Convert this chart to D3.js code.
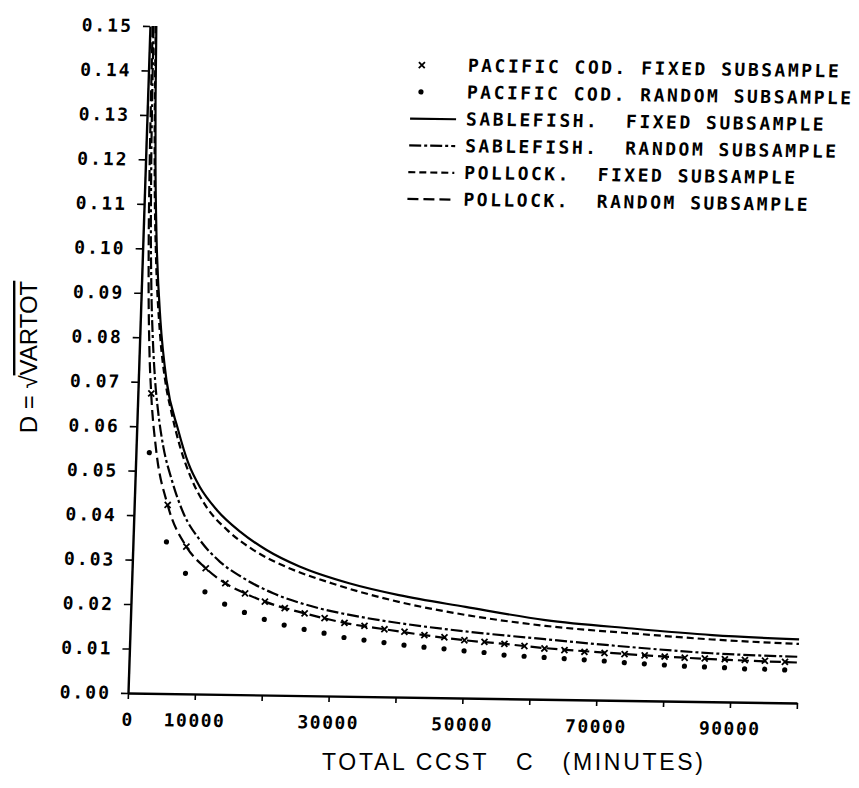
<!DOCTYPE html>
<html><head><meta charset="utf-8">
<script src="https://cdn.jsdelivr.net/npm/d3@7"></script>
<style>body{margin:0;background:#fff}</style>
</head><body>
<svg id="chart" width="859" height="788"></svg>
<script>
// ---------------- data ----------------
const xTickValues = [0,10000,20000,30000,40000,50000,60000,70000,80000,90000,100000];
const xTickLabels = ["0","10000","","30000","","50000","","70000","","90000",""];
const yTickValues = [0,0.01,0.02,0.03,0.04,0.05,0.06,0.07,0.08,0.09,0.10,0.11,0.12,0.13,0.14,0.15];

const legendLabels = [
  "PACIFIC COD. FIXED SUBSAMPLE",
  "PACIFIC COD. RANDOM SUBSAMPLE",
  "SABLEFISH.  FIXED SUBSAMPLE",
  "SABLEFISH.  RANDOM SUBSAMPLE",
  "POLLOCK.  FIXED SUBSAMPLE",
  "POLLOCK.  RANDOM SUBSAMPLE"
];

const sableFixedCost = [950,1200,1500,2000,3000,4200,6200,7900,9700,12400,16000,20000,25000,32500,40000,50000,62000,75000,87000,100000];
const sableFixedD    = [0.150,0.133,0.119,0.103,0.084,0.0705,0.0593,0.0518,0.0466,0.0414,0.0366,0.0326,0.0290,0.0254,0.0229,0.0205,0.0178,0.0162,0.0150,0.0143];

const pollockFixedCost = [860,1100,1500,2000,3000,4000,5150,6550,8500,10800,14000,18000,23000,30000,40000,50000,62000,75000,87000,100000];
const pollockFixedD    = [0.150,0.133,0.114,0.099,0.081,0.0705,0.0630,0.0556,0.0481,0.0421,0.0370,0.0326,0.0289,0.0253,0.0214,0.0187,0.0165,0.0151,0.0140,0.0133];

const sableRandomCost = [540,700,1000,1500,2000,2500,3150,4060,5500,7400,10000,13100,16700,21200,27300,34300,40300,50000,62000,75000,87000,100000];
const sableRandomD    = [0.150,0.132,0.111,0.091,0.079,0.0705,0.0630,0.0555,0.0480,0.0406,0.0346,0.0298,0.0262,0.0229,0.0200,0.0179,0.0166,0.0150,0.0135,0.0120,0.0109,0.0104];

const pollockRandomCost = [400,500,700,1000,1500,2000,3000,5000,8000,11000,14000,17000,20000,26000,32000,38000,44000,50000,56000,62000,71000,80000,89000,100000];
const pollockRandomD    = [0.150,0.134,0.113,0.095,0.0775,0.0672,0.0548,0.0424,0.0331,0.0283,0.0250,0.0228,0.0210,0.0185,0.0165,0.0152,0.0140,0.0130,0.0123,0.0115,0.0107,0.0100,0.0095,0.0091];

const codCost = [2000,5000,8000,11000,14000,17000,20000,23000,26000,29000,32000,35000,38000,41000,44000,47000,50000,53000,56000,59000,62000,65000,68000,71000,74000,77000,80000,83000,86000,89000,92000,95000,98000];
const codFixedD  = [0.0674,0.0424,0.0331,0.0283,0.0250,0.0228,0.0210,0.0196,0.0185,0.0175,0.0165,0.0159,0.0152,0.0147,0.0140,0.0136,0.0130,0.0127,0.0123,0.0119,0.0114,0.0111,0.0108,0.0106,0.0104,0.0102,0.0100,0.0098,0.0097,0.0096,0.0095,0.0094,0.0092];
const codRandomD = [0.0541,0.0341,0.0271,0.0230,0.0203,0.0185,0.0170,0.0158,0.0149,0.0141,0.0132,0.0127,0.0122,0.0117,0.0113,0.0110,0.0106,0.0103,0.0098,0.0096,0.0094,0.0092,0.0090,0.0088,0.0085,0.0083,0.0081,0.0079,0.0078,0.0077,0.0075,0.0075,0.0074];

// ---------------- drawing ----------------
const W = 669, H = 667;
const svg = d3.select("#chart");
const x = d3.scaleLinear().domain([0,100000]).range([0,W]);
const y = d3.scaleLinear().domain([0,0.15]).range([H,0]);

const mono = "'DejaVu Sans Mono', monospace";
const sans = "'Liberation Sans', Arial, sans-serif";

// plot group (scanned figure is slightly sheared/rotated)
const g = svg.append("g").attr("transform","matrix(1,0.015,-0.033,1,150,26)");

// axes
const xAxis = g.append("g").attr("transform",`translate(0,${H})`)
  .call(d3.axisBottom(x).tickValues(xTickValues).tickFormat((d,i)=>xTickLabels[i])
        .tickSize(6).tickSizeOuter(0).tickPadding(14));
const yAxis = g.append("g")
  .call(d3.axisLeft(y).tickValues(yTickValues).tickFormat(d3.format(".2f"))
        .tickSize(7).tickSizeOuter(0).tickPadding(10));
[xAxis,yAxis].forEach(a=>{
  a.select(".domain").attr("stroke","#000").attr("stroke-width",2.4);
  a.selectAll(".tick line").attr("stroke","#000").attr("stroke-width",1.6);
  a.selectAll(".tick text").attr("fill","#000").attr("font-family",mono)
    .attr("font-weight","bold").attr("font-size",18);
});
xAxis.selectAll(".tick text").attr("letter-spacing",1.5);
yAxis.selectAll(".tick text").attr("letter-spacing",2);

// lines
const line = d3.line().x(d=>x(d[0])).y(d=>y(d[1])).curve(d3.curveMonotoneX);
const zip = (a,b)=>a.map((v,i)=>[v,b[i]]);
const lineSeries = [
  {data: zip(sableFixedCost,sableFixedD), dash:null, w:2.2},
  {data: zip(pollockFixedCost,pollockFixedD), dash:"7,4", w:2.2},
  {data: zip(sableRandomCost,sableRandomD), dash:"12,3,3,3", w:2.2},
  {data: zip(pollockRandomCost,pollockRandomD), dash:"11,5", w:2.2}
];
g.selectAll("path.curve").data(lineSeries).join("path").attr("class","curve")
  .attr("d",d=>line(d.data)).attr("fill","none").attr("stroke","#000")
  .attr("stroke-width",d=>d.w).attr("stroke-dasharray",d=>d.dash);

// markers
const xMark = "M-3,-3L3,3M-3,3L3,-3";
g.selectAll("path.xm").data(zip(codCost,codFixedD)).join("path").attr("class","xm")
  .attr("transform",d=>`translate(${x(d[0])},${y(d[1])})`)
  .attr("d",xMark).attr("stroke","#000").attr("stroke-width",1.8).attr("fill","none");
g.selectAll("circle.dot").data(zip(codCost,codRandomD)).join("circle").attr("class","dot")
  .attr("cx",d=>x(d[0])).attr("cy",d=>y(d[1])).attr("r",2.6).attr("fill","#000");

// legend
const legendStyles = [
  {type:"x"},{type:"dot"},
  {type:"line",dash:null},{type:"line",dash:"12,3,3,3"},
  {type:"line",dash:"7,4"},{type:"line",dash:"11,5"}
];
const leg = g.append("g").attr("transform","translate(0,41)");
legendLabels.forEach((lab,i)=>{
  const row = leg.append("g").attr("transform",`translate(0,${i*26.8})`);
  const st = legendStyles[i];
  if(st.type==="x"){
    row.append("path").attr("d",xMark).attr("transform","translate(273,-6)")
      .attr("stroke","#000").attr("stroke-width",1.8);
  } else if(st.type==="dot"){
    row.append("circle").attr("cx",273).attr("cy",-6).attr("r",2.6).attr("fill","#000");
  } else {
    row.append("line").attr("x1",263).attr("x2",309).attr("y1",-6).attr("y2",-6)
      .attr("stroke","#000").attr("stroke-width",2.2).attr("stroke-dasharray",st.dash);
  }
  row.append("text").attr("x",319).attr("y",0).attr("font-family",mono)
    .attr("font-weight","bold").attr("font-size",18).attr("letter-spacing",2.5)
    .style("white-space","pre").text(lab);
});

// axis titles
svg.append("text").attr("x",322).attr("y",770).attr("font-family",sans)
  .attr("font-size",23).attr("textLength",381).attr("lengthAdjust","spacing")
  .style("white-space","pre").text("TOTAL CCST   C   (MINUTES)");

const yl = svg.append("text").attr("transform","translate(37,357) rotate(-90)")
  .attr("text-anchor","middle").attr("font-family",sans).attr("font-size",24);
yl.append("tspan").text("D = \u221A");
yl.append("tspan").style("text-decoration","overline").text("VARTOT");
</script>
</body></html>
